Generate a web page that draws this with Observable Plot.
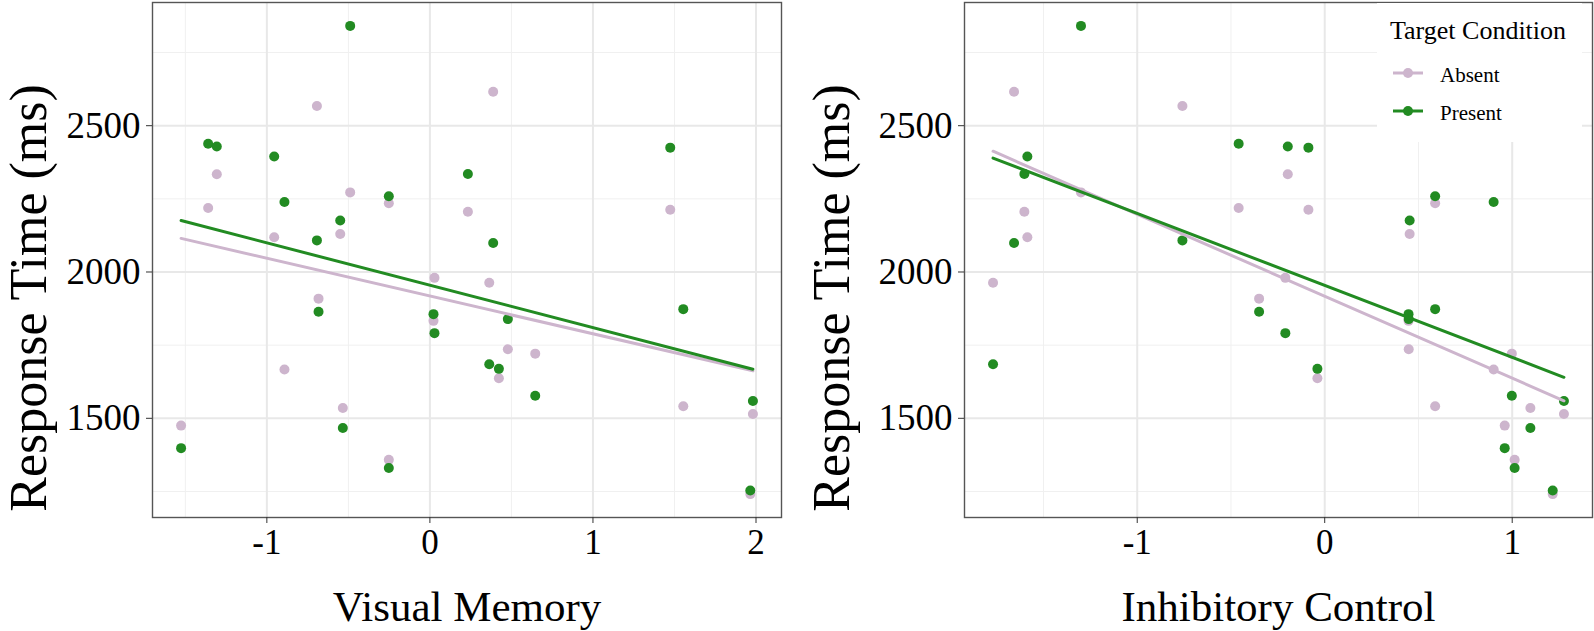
<!DOCTYPE html>
<html>
<head>
<meta charset="utf-8">
<script src="https://cdn.jsdelivr.net/npm/d3@7"></script>
<script src="https://cdn.jsdelivr.net/npm/@observablehq/plot@0.6"></script>
<style>
  html, body { margin: 0; padding: 0; background: #fff; }
  #wrap { position: relative; width: 1594px; height: 631px; display: flex; font-family: "Liberation Serif", "Times New Roman", serif; }
  #legend { position: absolute; left: 1377px; top: 3px; width: 205px; height: 139px; background: #fff; }
</style>
</head>
<body>
<div id="wrap">
  <div id="left"></div>
  <div id="right"></div>
  <div id="legend"></div>
</div>
<script>
// ---- Data (one entry per participant) ----
const visualMemory = [-1.526, -1.36, -1.307, -0.955, -0.892, -0.693, -0.683, -0.55, -0.534, -0.489, -0.252, -0.252,
  0.022, 0.028, 0.233, 0.364, 0.388, 0.423, 0.478, 0.646, 1.474, 1.554, 1.965, 1.981];
const inhibitoryControl = [0.96, -0.459, -0.197, -1.586, 0.901, -0.759, -0.35, 0.453, 1.097, -1.30, 0.589, 1.013,
  0.447, -0.21, -1.602, -1.769, -1.657, -0.039, 0.448, 0.998, -0.087, 0.589, 1.216, 1.276];
const rtAbsent = [1475, 2219, 2334, 2119, 1667, 2567, 1909, 2130, 1535, 2272, 2235, 1358,
  1833, 1980, 2206, 1963, 2616, 1637, 1736, 1721, 2213, 1541, 1241, 1515];
const rtPresent = [1398, 2438, 2429, 2395, 2239, 2108, 1864, 2176, 1467, 2841, 2259, 1330,
  1856, 1791, 2335, 1685, 2099, 1669, 1839, 1577, 2425, 1873, 1253, 1559];
const conditions = ["Absent", "Present"];
const conditionColors = ["#cdb5cd", "#228b22"];
const yTicks = [1500, 2000, 2500];
const yMinor = [1250, 1750, 2250, 2750];
const vmTicks = [-1, 0, 1, 2];
const vmMinor = [-1.5, -0.5, 0.5, 1.5];
const icTicks = [-1, 0, 1];
const icMinor = [-1.5, -0.5, 0.5];
const titles = {vm: "Visual Memory", ic: "Inhibitory Control", y: "Response Time (ms)", legend: "Target Condition"};

// long table built from the arrays
const rows = [];
conditions.forEach((c, k) => {
  const rts = k === 0 ? rtAbsent : rtPresent;
  rts.forEach((rt, i) => rows.push({vm: visualMemory[i], ic: inhibitoryControl[i], rt, cond: c}));
});

function expand(vals) {
  const [a, b] = d3.extent(vals);
  const p = (b - a) * 0.05;
  return [a - p, b + p];
}
const yDomain = expand(rtAbsent.concat(rtPresent));
const FONT = "Liberation Serif, Times New Roman, serif";

function panel({xKey, xTicks, xMinor, xTitle, width, marginLeft, marginRight, yTitleDx}) {
  return Plot.plot({
    width, height: 631,
    marginLeft, marginRight, marginTop: 2, marginBottom: 114,
    style: {fontFamily: FONT, background: "transparent", color: "#000", overflow: "visible"},
    x: {domain: expand(xKey === "vm" ? visualMemory : inhibitoryControl)},
    y: {domain: yDomain},
    color: {domain: conditions, range: conditionColors},
    marks: [
      Plot.gridX(xMinor, {stroke: "#f0f0f0", strokeOpacity: 1, strokeWidth: 1}),
      Plot.gridY(yMinor, {stroke: "#f0f0f0", strokeOpacity: 1, strokeWidth: 1}),
      Plot.gridX(xTicks, {stroke: "#e8e8e8", strokeOpacity: 1, strokeWidth: 2}),
      Plot.gridY(yTicks, {stroke: "#e8e8e8", strokeOpacity: 1, strokeWidth: 2}),
      Plot.frame({stroke: "#555", strokeWidth: 1.4}),
      Plot.axisX(xTicks, {tickSize: 6, tickPadding: 6, fontSize: 35, tickFormat: d => String(d), label: null, stroke: "#333"}),
      Plot.axisY(yTicks, {tickSize: 6, tickPadding: 6, fontSize: 37, tickFormat: d => String(d), label: null, stroke: "#333"}),
      Plot.dot(rows, {x: xKey, y: "rt", fill: "cond", r: 5}),
      Plot.linearRegressionY(rows, {x: xKey, y: "rt", stroke: "cond", strokeWidth: 3, ci: 0}),
      Plot.text([xTitle], {frameAnchor: "bottom", dy: 103, lineAnchor: "bottom", fontSize: 43, fill: "#000"}),
      Plot.text([titles.y], {frameAnchor: "left", textAnchor: "middle", rotate: -90, dx: yTitleDx, dy: 38, fontSize: 52, fill: "#000"})
    ]
  });
}

document.getElementById("left").appendChild(panel({
  xKey: "vm", xTicks: vmTicks, xMinor: vmMinor, xTitle: titles.vm,
  width: 790, marginLeft: 152, marginRight: 9, yTitleDx: -123
}));
document.getElementById("right").appendChild(panel({
  xKey: "ic", xTicks: icTicks, xMinor: icMinor, xTitle: titles.ic,
  width: 804, marginLeft: 174, marginRight: 2, yTitleDx: -132
}));

// legend (inside the right panel, top-right)
const lg = d3.select("#legend").append("svg").attr("width", 205).attr("height", 139)
  .style("font-family", FONT);
lg.append("text").attr("x", 13).attr("y", 36).attr("font-size", 26).text(titles.legend);
conditions.forEach((c, k) => {
  const y = 70 + k * 38;
  lg.append("line").attr("x1", 16).attr("x2", 46).attr("y1", y).attr("y2", y)
    .attr("stroke", conditionColors[k]).attr("stroke-width", 3);
  lg.append("circle").attr("cx", 31).attr("cy", y).attr("r", 5).attr("fill", conditionColors[k]);
  lg.append("text").attr("x", 63).attr("y", y + 9).attr("font-size", 21).text(c);
});
</script>
</body>
</html>
